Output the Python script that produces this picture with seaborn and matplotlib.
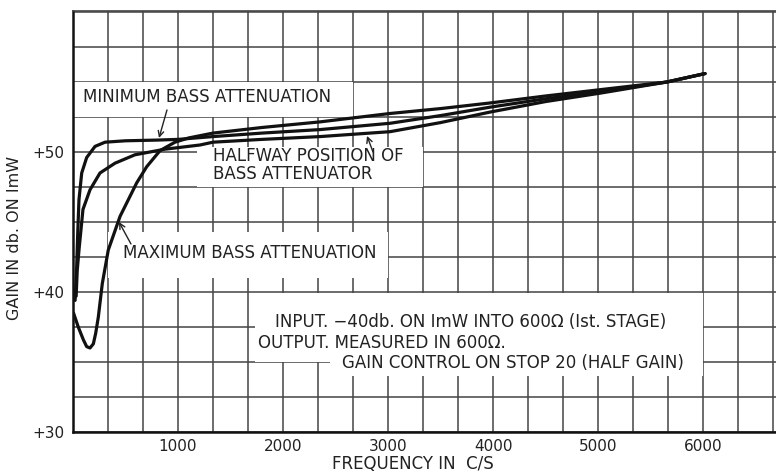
import numpy as np
import pandas as pd
import seaborn as sns
import matplotlib
matplotlib.use('Agg')
import matplotlib.pyplot as plt
from matplotlib.patches import Rectangle
from matplotlib.ticker import MultipleLocator, FixedLocator

# values (frequency in c/s, gain in db)
freq_min = [20, 35, 45, 57, 83, 130, 210, 305, 500, 800, 1000, 1333, 1800, 2352, 3019, 3500, 3971, 4500, 5019, 5657, 6019]
gain_min = [39.4, 41.8, 44.2, 46.6, 48.5, 49.6, 50.4, 50.7, 50.8, 50.85, 50.9, 51.1, 51.35, 51.6, 52.05, 52.6, 53.2, 53.8, 54.3, 55.0, 55.6]

freq_half = [30, 40, 57, 95, 162, 257, 400, 590, 876, 1210, 1333, 1800, 2352, 3019, 3500, 3971, 4500, 5019, 5657, 6019]
gain_half = [39.7, 41.5, 43.0, 45.9, 47.3, 48.5, 49.2, 49.8, 50.2, 50.5, 50.7, 50.9, 51.1, 51.45, 52.1, 52.85, 53.6, 54.2, 55.0, 55.6]

freq_max = [5, 50, 98, 130, 162, 194, 216, 241, 279, 336, 448, 607, 702, 829, 971, 1100, 1333, 1800, 2352, 3019, 3500, 3971, 4500, 5019, 5657, 6019]
gain_max = [38.5, 37.5, 36.6, 36.1, 36.0, 36.3, 37.05, 38.2, 40.6, 43.0, 45.4, 47.8, 48.95, 50.1, 50.7, 51.0, 51.35, 51.75, 52.15, 52.75, 53.1, 53.5, 54.0, 54.45, 55.0, 55.6]

x_ticks = [1000, 2000, 3000, 4000, 5000, 6000]
y_ticks = [30, 40, 50]
y_tick_labels = ['+30', '+40', '+50']

df = pd.concat([
    pd.DataFrame({'freq': freq_min, 'gain': gain_min, 'curve': 'minimum'}),
    pd.DataFrame({'freq': freq_half, 'gain': gain_half, 'curve': 'halfway'}),
    pd.DataFrame({'freq': freq_max, 'gain': gain_max, 'curve': 'maximum'}),
])

sns.set_style('white')
plt.rcParams['font.family'] = ['DejaVu Sans']

fig = plt.figure(figsize=(7.76, 4.72), dpi=100)
ax = fig.add_axes([73 / 776, 40 / 472, 703 / 776, 421 / 472])

sns.lineplot(data=df, x='freq', y='gain', hue='curve', estimator=None, sort=False,
             palette={'minimum': '#111111', 'halfway': '#111111', 'maximum': '#111111'},
             linewidth=2.3, legend=False, ax=ax, zorder=3)

ax.set_xlim(0, 6695)
ax.set_ylim(30, 60.07)
ax.xaxis.set_major_locator(FixedLocator(x_ticks))
ax.yaxis.set_major_locator(FixedLocator(y_ticks))
ax.set_yticklabels(y_tick_labels)
ax.xaxis.set_minor_locator(MultipleLocator(1000 / 3))
ax.yaxis.set_minor_locator(MultipleLocator(2.5))
ax.set_axisbelow(True)
ax.grid(which='both', color='#444444', linewidth=1.1)
ax.tick_params(which='both', length=0, labelsize=11, colors='#222222')
ax.tick_params(axis='x', pad=5)
ax.tick_params(axis='y', pad=6)

for s in ['left', 'bottom']:
    ax.spines[s].set_color('#111111')
    ax.spines[s].set_linewidth(1.8)
ax.spines['top'].set_color('#444444')
ax.spines['top'].set_linewidth(1.2)
ax.spines['right'].set_visible(False)

# blank patches where the lettering sits on the grid
for (x0, y0, w, h) in [(0, 52.5, 2667, 2.5),
                       (1180, 47.5, 2153, 2.85),
                       (333, 41.0, 2667, 3.3),
                       (1733, 35.0, 4267, 4.95),
                       (2450, 34.0, 3550, 1.05)]:
    ax.add_patch(Rectangle((x0, y0), w, h, facecolor='white', edgecolor='none', zorder=1))

txt = dict(fontsize=12, color='#222222', va='center', zorder=4)
ax.text(95, 53.93, 'MINIMUM BASS ATTENUATION', **txt)
ax.text(1333, 49.04, 'HALFWAY POSITION OF\nBASS ATTENUATOR', linespacing=1.0, **txt)
ax.text(476, 42.79, 'MAXIMUM BASS ATTENUATION', **txt)
ax.text(1924, 37.86, 'INPUT. \u221240db. ON ImW INTO 600\u03a9 (Ist. STAGE)', **txt)
ax.text(1762, 36.36, 'OUTPUT. MEASURED IN 600\u03a9.', **txt)
ax.text(2562, 34.93, 'GAIN CONTROL ON STOP 20 (HALF GAIN)', **txt)

arrow = dict(arrowstyle='->', color='#222222', lw=1.0, shrinkA=0, shrinkB=0)
ax.annotate('', xy=(819, 51.0), xytext=(895, 53.0), arrowprops=arrow)
ax.annotate('', xy=(2800, 51.15), xytext=(2857, 50.0), arrowprops=arrow)
ax.annotate('', xy=(438, 45.0), xytext=(552, 43.43), arrowprops=arrow)

ax.set_xlabel('FREQUENCY IN  C/S', fontsize=12, color='#222222')
ax.set_ylabel('GAIN IN db. ON ImW', fontsize=11.5, color='#222222')
ax.xaxis.label.set_va('center')
ax.xaxis.set_label_coords(0.484, -0.076)
ax.yaxis.set_label_coords(-0.072, 0.46)

fig.savefig('out.png', dpi=100, facecolor='white')
